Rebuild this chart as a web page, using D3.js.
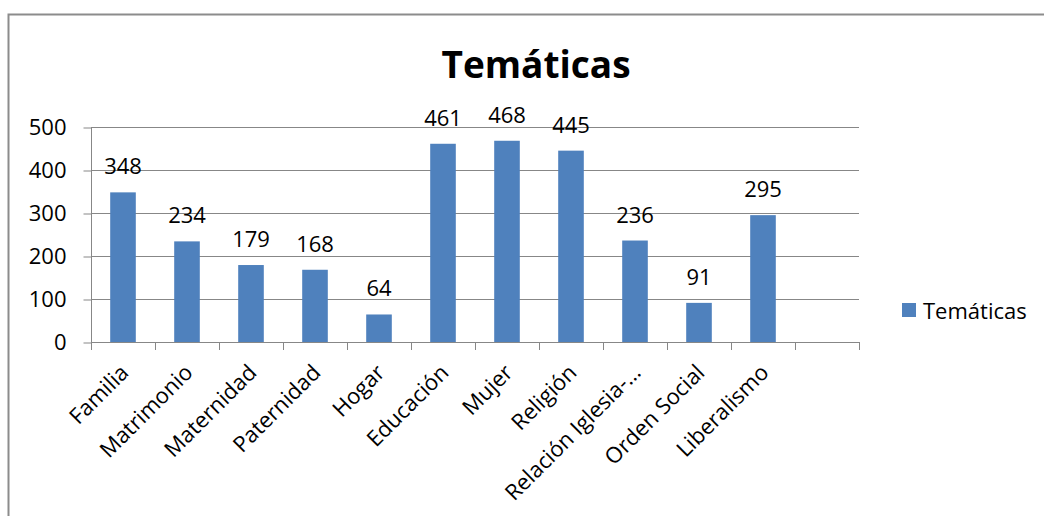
<!DOCTYPE html>
<meta charset="utf-8">
<style>
	body { margin: 0; background: #fff; }
	svg { display: block; font-family: "Open Sans", Lato, sans-serif; }
	.grid line { stroke: #878787; stroke-width: 1; }
	.axis line, .axis path { stroke: #878787; stroke-width: 1; fill: none; }
	.lbl { font-size: 22px; fill: #000; }
	.title { font-size: 37px; font-weight: bold; fill: #000; }
</style>
<body>
<script src="https://cdn.jsdelivr.net/npm/d3@7"></script>
<script>
var width = 1044,
    height = 516;

var categories = ["Familia", "Matrimonio", "Maternidad", "Paternidad", "Hogar", "Educación",
                  "Mujer", "Religión", "Relación Iglesia-…", "Orden Social", "Liberalismo"];
var values = [348, 234, 179, 168, 64, 461, 468, 445, 236, 91, 295];
var yTicks = [0, 100, 200, 300, 400, 500];
var seriesName = "Temáticas";
var title = "Temáticas";

// plot area (one empty slot at the end, as in the sheet)
var plotL = 91, plotR = 859, plotT = 127, plotB = 342;

var x = d3.scaleBand()
    .domain(categories.concat([""]))
    .range([plotL, plotR])
    .padding(0);

var y = d3.scaleLinear()
    .domain([0, 500])
    .range([plotB, plotT]);

var barW = x.bandwidth() * 0.4;

var svg = d3.select("body").append("svg")
    .attr("width", width)
    .attr("height", height);

// chart border
svg.append("rect")
    .attr("x", 8.5).attr("y", 14.5)
    .attr("width", width).attr("height", height)
    .attr("fill", "#fff")
    .attr("stroke", "#8c8c8c")
    .attr("stroke-width", 2);

svg.append("text")
    .attr("class", "title")
    .attr("x", 536).attr("y", 78)
    .attr("text-anchor", "middle")
    .text(title);

// gridlines
svg.append("g").attr("class", "grid")
  .selectAll("line").data(yTicks.slice(1))
  .enter().append("line")
    .attr("x1", plotL).attr("x2", plotR)
    .attr("y1", function(d) { return Math.round(y(d)) + 0.5; })
    .attr("y2", function(d) { return Math.round(y(d)) + 0.5; });

// y axis
var yAxis = svg.append("g").attr("class", "axis")
    .attr("transform", "translate(" + (plotL + 0.5) + ",0.5)")
    .call(d3.axisLeft(y).tickValues(yTicks).tickSize(8).tickPadding(17));
yAxis.attr("font-size", null).attr("font-family", null);
yAxis.selectAll("text").attr("class", "lbl").attr("fill", "#000");
yAxis.select(".domain").attr("d", "M0," + plotT + "V" + plotB);

// bars
svg.append("g").selectAll("rect").data(values)
  .enter().append("rect")
    .attr("x", function(d, i) { return x(categories[i]) + (x.bandwidth() - barW) / 2; })
    .attr("y", function(d) { return y(d); })
    .attr("width", barW)
    .attr("height", function(d) { return y(0) - y(d); })
    .attr("fill", "#4f81bd");

// data labels
svg.append("g").selectAll("text").data(values)
  .enter().append("text")
    .attr("class", "lbl")
    .attr("text-anchor", "middle")
    .attr("x", function(d, i) { return x(categories[i]) + x.bandwidth() / 2; })
    .attr("y", function(d) { return y(d) - 18; })
    .text(function(d) { return d; });

// x axis: ticks on category boundaries
var xAxis = svg.append("g").attr("class", "axis");
xAxis.append("line")
    .attr("x1", plotL).attr("x2", plotR + 1)
    .attr("y1", plotB + 0.5).attr("y2", plotB + 0.5);
xAxis.selectAll("line.tk").data(x.domain().concat(["end"]))
  .enter().append("line")
    .attr("class", "tk")
    .attr("x1", function(d, i) { return Math.round(plotL + i * x.step()) + 0.5; })
    .attr("x2", function(d, i) { return Math.round(plotL + i * x.step()) + 0.5; })
    .attr("y1", plotB).attr("y2", plotB + 8);

svg.append("g").selectAll("text").data(categories)
  .enter().append("text")
    .attr("class", "lbl")
    .attr("text-anchor", "end")
    .attr("transform", function(d) {
      var cx = x(d) + x.bandwidth() / 2;
      return "translate(" + (cx + 7) + "," + 374 + ") rotate(-45)";
    })
    .text(function(d) { return d; });

// legend
var legend = svg.append("g").attr("transform", "translate(902,303)");
legend.append("rect")
    .attr("width", 14).attr("height", 14)
    .attr("fill", "#4f81bd");
legend.append("text")
    .attr("class", "lbl")
    .attr("x", 21).attr("y", 16)
    .text(seriesName);
</script>
</body>
